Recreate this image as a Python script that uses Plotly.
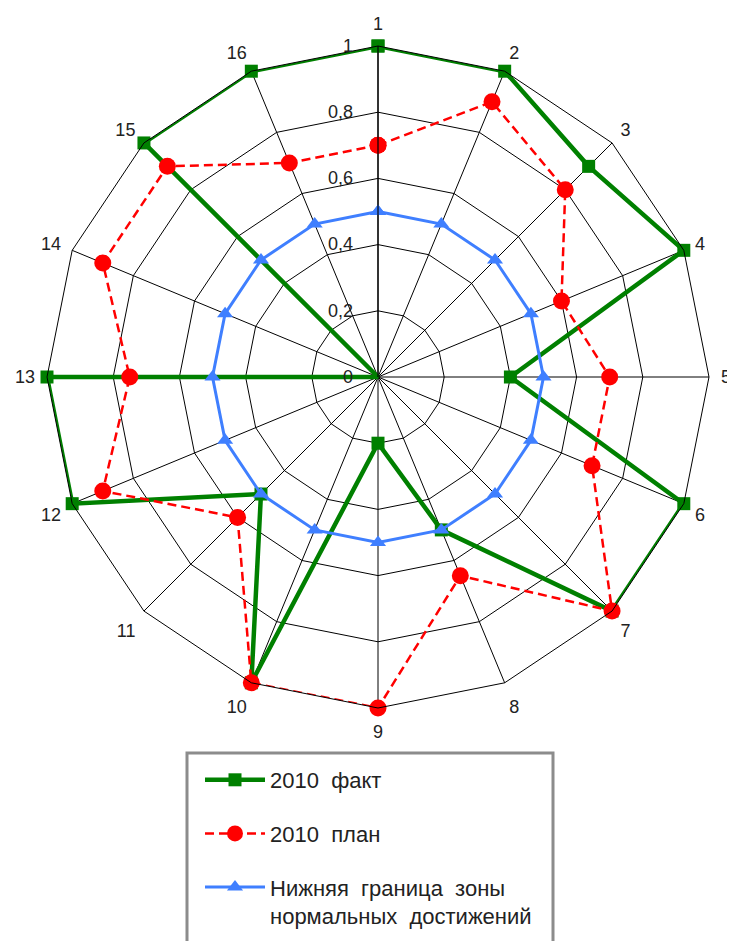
import plotly.graph_objects as go

categories = [str(i) for i in range(1, 17)]
fact_2010 = [1.0, 1.0, 0.9, 1.0, 0.4, 1.0, 1.0, 0.5, 0.2, 1.0, 0.5, 1.0, 1.0, 0.0, 1.0, 1.0]
plan_2010 = [0.7, 0.9, 0.8, 0.6, 0.7, 0.7, 1.0, 0.65, 1.0, 1.0, 0.6, 0.9, 0.75, 0.9, 0.9, 0.7]
lower_bound = [0.5] * 16
radial_ticks = [0, 0.2, 0.4, 0.6, 0.8, 1.0]

names = ["2010\u00a0\u00a0факт", "2010\u00a0\u00a0план",
         "Нижняя\u00a0\u00a0граница\u00a0\u00a0зоны<br>нормальных\u00a0\u00a0достижений"]

OFF = 8  # page body margin
W, H = 735 - OFF, 941 - OFF


def closed(vals):
    return list(vals) + [vals[0]]


theta = closed(categories)

fig = go.Figure()
fig.add_trace(go.Scatterpolar(
    r=closed(fact_2010), theta=theta, mode="lines+markers", name=names[0],
    line=dict(color="#008000", width=4.5),
    marker=dict(symbol="square", size=13, color="#008000"),
    cliponaxis=False, legendgroup="a"))
fig.add_trace(go.Scatterpolar(
    r=closed(plan_2010), theta=theta, mode="lines+markers", name=names[1],
    line=dict(color="#ff0000", width=2.5, dash="9px,5px"),
    marker=dict(symbol="circle", size=17, color="#ff0000"),
    cliponaxis=False, legendgroup="b"))
fig.add_trace(go.Scatterpolar(
    r=closed(lower_bound), theta=theta, mode="lines+markers", name=names[2],
    line=dict(color="#3f7fff", width=3),
    marker=dict(symbol="triangle-up", size=14, color="#3f7fff"),
    cliponaxis=False, legendgroup="c"))

cx, cy, R = 378 - OFF, 377 - OFF, 331
fig.update_layout(
    width=W, height=H,
    margin=dict(l=0, r=0, t=0, b=0),
    paper_bgcolor="white",
    plot_bgcolor="white",
    separators=", ",
    font=dict(family="Liberation Sans, Arial, sans-serif", size=18, color="#222222"),
    polar=dict(
        domain=dict(x=[(cx - R) / W, (cx + R) / W], y=[1 - (cy + R) / H, 1 - (cy - R) / H]),
        bgcolor="white",
        gridshape="linear",
        angularaxis=dict(
            direction="clockwise", rotation=90,
            categoryorder="array", categoryarray=categories,
            linecolor="#000000", linewidth=1,
            gridcolor="#000000", gridwidth=1,
            showline=True, ticks="outside", ticklen=8, tickcolor="rgba(0,0,0,0)",
            tickfont=dict(size=18, color="#222222"),
        ),
        radialaxis=dict(
            range=[0, 1], angle=90, side="counterclockwise",
            tickvals=radial_ticks, tickangle=90,
            linecolor="#000000", linewidth=1.2,
            gridcolor="#000000", gridwidth=1,
            showline=True, ticks="outside", ticklen=18, tickcolor="rgba(0,0,0,0)",
            tickfont=dict(size=18, color="#222222"),
        ),
    ),
    legend=dict(
        x=(200 - OFF) / W, y=1 - (759 - OFF) / H, xanchor="left", yanchor="top",
        bgcolor="rgba(0,0,0,0)", borderwidth=0,
        font=dict(size=22, color="#222222"),
        traceorder="grouped", tracegroupgap=22,
        itemwidth=60, valign="top",
    ),
    shapes=[dict(type="rect", xref="paper", yref="paper",
                 x0=(187 - OFF) / W, x1=(553 - OFF) / W, y0=-0.05, y1=1 - (753 - OFF) / H,
                 line=dict(color="#8c8c8c", width=3), fillcolor="rgba(0,0,0,0)")],
)

fig.write_html("out.html")
